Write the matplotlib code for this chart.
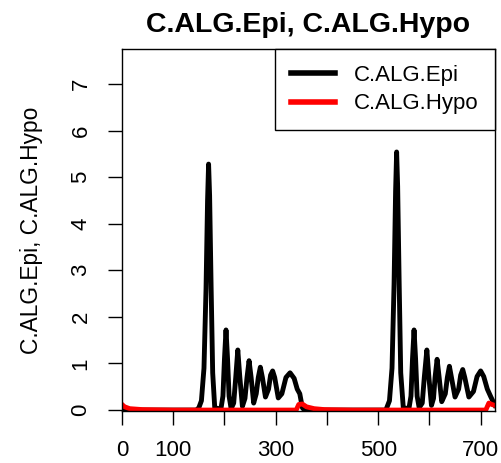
import numpy as np
import matplotlib
matplotlib.use("Agg")
import matplotlib.pyplot as plt

plt.rcParams['font.family'] = ['Liberation Sans', 'DejaVu Sans']

# C.ALG.Epi (day, value)
epi_day = [0, 145, 150, 155, 160, 164, 167, 169, 171, 174, 177, 181,
           193, 197, 200, 203, 206, 209, 213,
           218, 222, 226, 230, 235,
           240, 244, 248, 252, 257,
           262, 266, 270, 274, 280,
           286, 290, 294, 298, 305,
           312, 320, 328, 336, 342, 347, 352, 356,
           515, 522, 527, 531, 534, 536, 538, 541, 544, 549,
           560, 564, 567, 570, 573, 576, 580,
           586, 590, 595, 599, 604,
           608, 611, 615, 619, 624,
           631, 635, 639, 643, 650,
           657, 661, 665, 669, 677,
           686, 693, 700, 706, 713, 720, 728]
epi_val = [0, 0, 0.05, 0.2, 0.9, 2.6, 4.5, 5.28, 4.6, 2.6, 0.8, 0.05,
           0.02, 0.3, 1.1, 1.72, 1.1, 0.3, 0.03,
           0.15, 0.7, 1.29, 0.7, 0.08,
           0.25, 0.7, 1.06, 0.7, 0.15,
           0.35, 0.7, 0.92, 0.7, 0.28,
           0.45, 0.75, 0.84, 0.7, 0.26,
           0.35, 0.7, 0.80, 0.68, 0.45, 0.35, 0.05, 0,
           0, 0.2, 0.9, 2.7, 4.7, 5.54, 4.8, 2.7, 0.8, 0.05,
           0.03, 0.3, 1.1, 1.72, 1.1, 0.3, 0.05,
           0.15, 0.7, 1.29, 0.7, 0.1,
           0.25, 0.7, 1.09, 0.7, 0.18,
           0.35, 0.7, 0.94, 0.7, 0.28,
           0.45, 0.75, 0.87, 0.7, 0.28,
           0.4, 0.72, 0.84, 0.72, 0.45, 0.28, 0.1]

# C.ALG.Hypo, stays near zero with small bumps
hypo_day = [0, 5, 15, 40, 100, 340, 345, 352, 360, 375, 395, 450, 710, 716, 722, 728]
hypo_val = [0.12, 0.07, 0.03, 0.01, 0, 0, 0.12, 0.13, 0.07, 0.03, 0.01, 0, 0, 0.15, 0.12, 0.1]

x_ticks = [0, 100, 200, 300, 400, 500, 600, 700]
x_labels = ['0', '100', '', '300', '', '500', '', '700']
y_ticks = [0, 1, 2, 3, 4, 5, 6, 7]

fig = plt.figure(figsize=(5.02, 4.63), dpi=100)
ax = fig.add_axes([122 / 502, 1 - 411 / 463, 373 / 502, 362 / 463])

ax.plot(epi_day, epi_val, color='black', lw=3.5, solid_joinstyle='round', label='C.ALG.Epi')
ax.plot(hypo_day, hypo_val, color='red', lw=3.5, solid_joinstyle='round', label='C.ALG.Hypo')

ax.set_xlim(0, 728)
ax.set_ylim(-0.02, 7.75)
ax.set_xticks(x_ticks)
ax.set_xticklabels(x_labels)
ax.set_yticks(y_ticks)
ax.set_yticklabels([str(v) for v in y_ticks], rotation=90, va='center')
ax.tick_params(direction='out', length=10, width=1, labelsize=16)
ax.tick_params(axis='x', pad=11)
ax.tick_params(axis='y', pad=12)
for s in ax.spines.values():
    s.set_linewidth(1)

ax.set_title('C.ALG.Epi, C.ALG.Hypo', fontsize=20.5, fontweight='bold', pad=12)
ax.set_ylabel('C.ALG.Epi, C.ALG.Hypo', fontsize=16.4, labelpad=20)

leg = ax.legend(loc='upper right', bbox_to_anchor=((275 - 122) / 373, 0, (495 - 275) / 373, 1),
                mode='expand', borderaxespad=0, fancybox=False, fontsize=16,
                handlelength=2.0, handletextpad=0.85, borderpad=0.7, labelspacing=0.35,
                framealpha=1)
leg.get_frame().set_edgecolor('black')
leg.get_frame().set_linewidth(1)
for line in leg.get_lines():
    line.set_linewidth(4)

fig.savefig('out.png', dpi=100)
